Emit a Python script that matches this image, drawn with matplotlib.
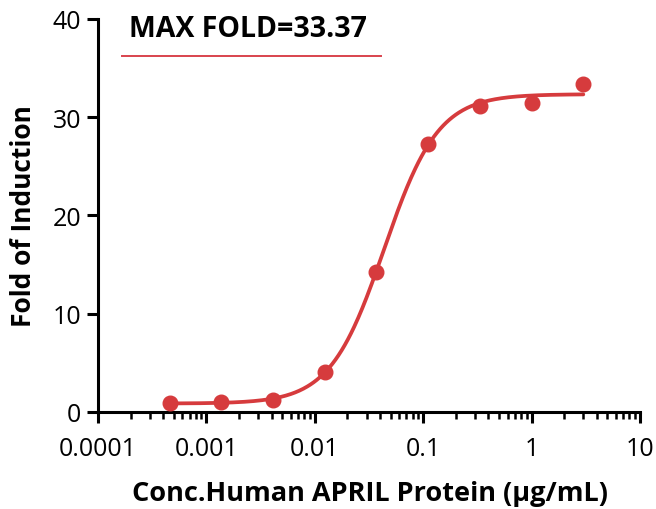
import numpy as np
import matplotlib
matplotlib.use("Agg")
import matplotlib.pyplot as plt
from matplotlib.ticker import LogLocator, NullFormatter

plt.rcParams['font.family'] = ['Open Sans', 'DejaVu Sans']

# data
conc = [0.000457, 0.00137, 0.00412, 0.0123, 0.037, 0.111, 0.333, 1.0, 3.0]
fold = [0.9, 1.05, 1.25, 4.05, 14.2, 27.3, 31.1, 31.45, 33.37]
x_ticks = [0.0001, 0.001, 0.01, 0.1, 1, 10]
x_tick_labels = ["0.0001", "0.001", "0.01", "0.1", "1", "10"]
y_ticks = [0, 10, 20, 30, 40]
title = "MAX FOLD=33.37"

red = "#d63b3d"

# 4PL fit: grid over ec50/hill, linear solve for bottom/top
x = np.array(conc)
y = np.array(fold)
best = None
for h in np.linspace(0.8, 3.0, 111):
    for lec in np.linspace(-2.5, -0.5, 201):
        f = 1.0 / (1.0 + (10**lec / x)**h)
        A = np.column_stack([1 - f, f])
        coef, *_ = np.linalg.lstsq(A, y, rcond=None)
        err = np.sum((A @ coef - y)**2)
        if best is None or err < best[0]:
            best = (err, h, lec, coef)
_, hill, lec50, (bottom, top) = best
xs = np.logspace(np.log10(x.min()), np.log10(x.max()), 400)
ys = bottom + (top - bottom) / (1.0 + (10**lec50 / xs)**hill)

fig = plt.figure(figsize=(6.56, 5.10), dpi=100)
ax = fig.add_axes([0.1494, 0.1902, 0.8262, 0.7706])

ax.plot(xs, ys, color=red, lw=2.7, solid_capstyle='round', zorder=3)
ax.plot(conc, fold, 'o', color=red, ms=10.5, zorder=4)

ax.set_xscale('log')
ax.set_xlim(0.0001, 10)
ax.set_ylim(0, 40)
ax.set_xticks(x_ticks)
ax.set_xticklabels(x_tick_labels)
ax.xaxis.set_minor_locator(LogLocator(base=10, subs=np.arange(2, 10), numticks=20))
ax.xaxis.set_minor_formatter(NullFormatter())
ax.set_yticks(y_ticks)

for s in ['top', 'right']:
    ax.spines[s].set_visible(False)
for s in ['left', 'bottom']:
    ax.spines[s].set_linewidth(2.2)
ax.tick_params(which='major', length=8, width=2.2, labelsize=18)
ax.tick_params(axis='y', pad=4)
ax.tick_params(axis='x', pad=9)
ax.tick_params(which='minor', length=5, width=1.8)

ax.set_ylabel("Fold of Induction", fontsize=19, fontweight='bold', va='center')
ax.yaxis.set_label_coords(-0.137, 0.5)
ax.set_xlabel("Conc.Human APRIL Protein (μg/mL)", fontsize=19.5, fontweight='bold')
ax.xaxis.set_label_coords(0.502, -0.172)

ax.text(0.057, 0.957, title, transform=ax.transAxes, fontsize=20.5,
        fontweight='bold', va='baseline', ha='left')
ax.plot([0.044, 0.522], [0.906, 0.906], transform=ax.transAxes,
        color="#d9434d", lw=1.4, clip_on=False)

fig.savefig("out.png", dpi=100)
